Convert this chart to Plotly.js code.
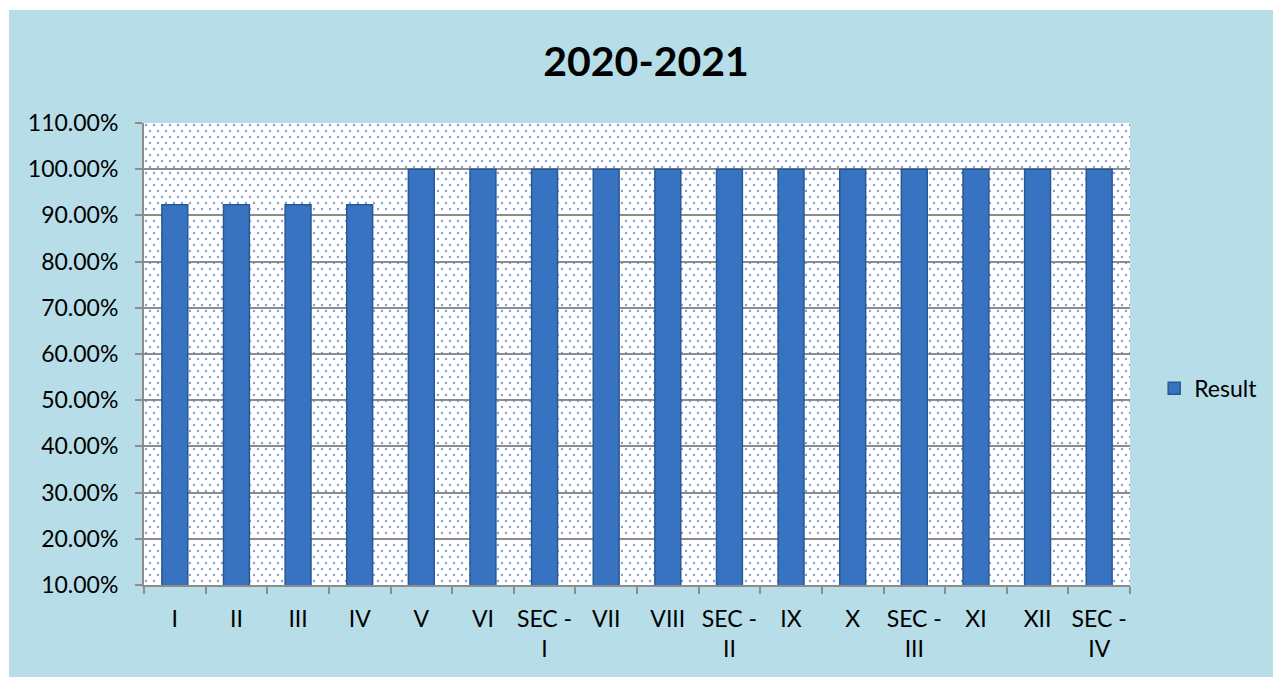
<!DOCTYPE html>
<html>
<head>
<meta charset="utf-8">
<script src="https://cdn.plot.ly/plotly-3.0.1.min.js"></script>
<style>
  body { margin: 0; background: #ffffff; }
  #chart { position: absolute; left: 9px; top: 10px; width: 1264px; height: 667px; }
</style>
</head>
<body>
<div id="chart"></div>
<script>
// classes (x axis) and pass results
const classes = ['I', 'II', 'III', 'IV', 'V', 'VI', 'SEC -<br>I', 'VII', 'VIII', 'SEC -<br>II',
                 'IX', 'X', 'SEC -<br>III', 'XI', 'XII', 'SEC -<br>IV'];
const result = [0.923, 0.923, 0.923, 0.923, 1, 1, 1, 1, 1, 1, 1, 1, 1, 1, 1, 1];
const yTicks = [0.1, 0.2, 0.3, 0.4, 0.5, 0.6, 0.7, 0.8, 0.9, 1.0, 1.1];

// dotted fill for the plot area
const dots = '<svg xmlns="http://www.w3.org/2000/svg" width="986" height="462">' +
  '<defs><pattern id="p" width="8" height="12" patternUnits="userSpaceOnUse">' +
  '<circle cx="2" cy="2" r="1.2" fill="#7f9fd8"/><circle cx="6" cy="8" r="1.2" fill="#7f9fd8"/>' +
  '</pattern></defs><rect width="986" height="462" fill="#ffffff"/>' +
  '<rect width="986" height="462" fill="url(#p)"/></svg>';

const trace = {
  x: classes,
  y: result,
  type: 'bar',
  name: 'Result',
  marker: { color: '#3873c2', line: { color: '#2a5894', width: 1.5 } },
  hoverinfo: 'x+y'
};

const layout = {
  width: 1264,
  height: 667,
  paper_bgcolor: '#b7dee8',
  plot_bgcolor: '#ffffff',
  margin: { l: 135, r: 143, t: 113, b: 92 },
  font: { family: 'Lato, "Open Sans", sans-serif', color: '#000000', size: 23 },
  title: {
    text: '<b>2020-2021</b>',
    font: { size: 41, family: 'Lato, sans-serif' },
    x: 0.504, xanchor: 'center',
    yref: 'container', y: 0.922, yanchor: 'middle'
  },
  bargap: 0.58,
  xaxis: {
    type: 'category',
    tickson: 'boundaries',
    ticks: 'outside',
    ticklen: 7,
    tickwidth: 2,
    tickcolor: '#8c8c8c',
    showline: true,
    linecolor: '#8c8c8c',
    linewidth: 2,
    tickfont: { size: 23 },
    ticklabelstandoff: 12,
    tickangle: 0
  },
  yaxis: {
    range: [0.1, 1.1],
    tickvals: yTicks,
    tickformat: '.2%',
    ticks: 'outside',
    ticklen: 7,
    tickwidth: 2,
    tickcolor: '#8c8c8c',
    showline: true,
    linecolor: '#8c8c8c',
    linewidth: 2,
    showgrid: true,
    gridcolor: '#8c8c8c',
    gridwidth: 2,
    zeroline: false,
    tickfont: { size: 23 },
    ticklabelstandoff: 12
  },
  showlegend: true,
  legend: {
    xref: 'container', x: 0.906, xanchor: 'left',
    y: 0.426, yanchor: 'middle',
    bgcolor: 'rgba(0,0,0,0)',
    font: { size: 23 }
  },
  images: [{
    source: 'data:image/svg+xml;utf8,' + encodeURIComponent(dots),
    xref: 'paper', yref: 'paper',
    x: 0, y: 1, sizex: 1, sizey: 1,
    xanchor: 'left', yanchor: 'top',
    sizing: 'stretch',
    layer: 'below'
  }]
};

Plotly.newPlot('chart', [trace], layout, { displayModeBar: false });
</script>
</body>
</html>
